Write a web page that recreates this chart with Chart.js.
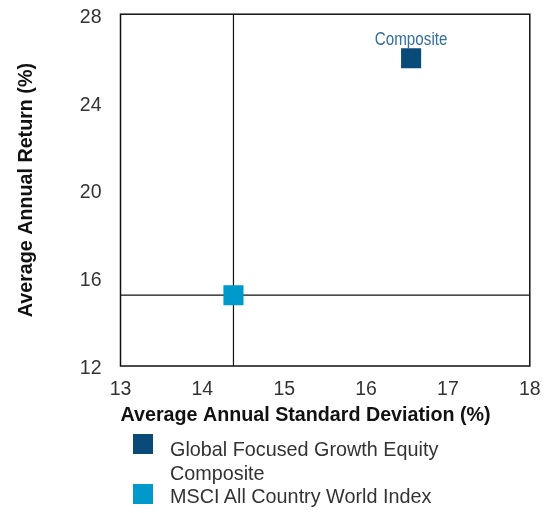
<!DOCTYPE html>
<html>
<head>
<meta charset="utf-8">
<script src="https://cdn.jsdelivr.net/npm/chart.js@4"></script>
<style>
  html, body { margin: 0; padding: 0; background: #fff; }
  #wrap { position: relative; width: 544px; height: 513px; }
  #legend { position: absolute; left: 133px; top: 438px; font-family: "Liberation Sans", Arial, sans-serif; font-size: 19.8px; color: #333; }
  .item { position: relative; padding-left: 37px; line-height: 23.5px; width: 340px; }
  .box { position: absolute; left: 0; width: 20px; height: 20px; }
</style>
</head>
<body>
<div id="wrap">
  <canvas id="chart" width="544" height="513"></canvas>
  <div id="legend"></div>
</div>
<script>
// values
var seriesNames = ["Global Focused Growth Equity Composite", "MSCI All Country World Index"];
var seriesColors = ["#0a4a78", "#0099cc"];
var stdDev = [16.55, 14.38];
var avgReturn = [26.0, 15.22];
var pointLabels = ["Composite", ""];
var xTicks = [13, 14, 15, 16, 17, 18];
var yTicks = [12, 16, 20, 24, 28];

// crosshair through the index point + frame + point label
var extras = {
  id: "extras",
  beforeDatasetsDraw: function (chart) {
    var ctx = chart.ctx, a = chart.chartArea;
    var xs = chart.scales.x, ys = chart.scales.y;
    var px = xs.getPixelForValue(stdDev[1]);
    var py = ys.getPixelForValue(avgReturn[1]);
    ctx.save();
    ctx.strokeStyle = "#111";
    ctx.lineWidth = 1.2;
    ctx.beginPath();
    ctx.moveTo(px, a.top); ctx.lineTo(px, a.bottom);
    ctx.moveTo(a.left, py); ctx.lineTo(a.right, py);
    ctx.stroke();
    ctx.lineWidth = 1.5;
    ctx.strokeRect(a.left, a.top, a.right - a.left, a.bottom - a.top);
    ctx.restore();
  },
  afterDatasetsDraw: function (chart) {
    var ctx = chart.ctx;
    chart.data.datasets.forEach(function (ds, i) {
      if (!pointLabels[i]) return;
      var pt = chart.getDatasetMeta(i).data[0];
      ctx.save();
      ctx.translate(pt.x, pt.y - 13);
      ctx.scale(0.8, 1);
      ctx.font = '19px "Liberation Sans", Arial, sans-serif';
      ctx.fillStyle = "#336e9c";
      ctx.textAlign = "center";
      ctx.textBaseline = "alphabetic";
      ctx.fillText(pointLabels[i], 0, 0);
      ctx.restore();
    });
  }
};

var datasets = seriesNames.map(function (name, i) {
  return {
    label: name,
    data: [{ x: stdDev[i], y: avgReturn[i] }],
    pointStyle: "rect",
    pointRadius: 14.2,
    pointHoverRadius: 14.2,
    backgroundColor: seriesColors[i],
    borderWidth: 0
  };
});

var tickFont = { family: '"Liberation Sans", Arial, sans-serif', size: 19.5 };
var titleFont = { family: '"Liberation Sans", Arial, sans-serif', size: 19.7, weight: "bold" };

new Chart(document.getElementById("chart").getContext("2d"), {
  type: "scatter",
  data: { datasets: datasets },
  plugins: [extras],
  options: {
    responsive: false,
    animation: false,
    layout: { padding: { top: 12, right: 13, bottom: 82, left: 0 } },
    plugins: { legend: { display: false }, tooltip: { enabled: false } },
    scales: {
      x: {
        min: xTicks[0], max: xTicks[xTicks.length - 1],
        afterBuildTicks: function (s) { s.ticks = xTicks.map(function (v) { return { value: v }; }); },
        afterFit: function (s) { s.height = 65; s.paddingLeft = 0; s.paddingRight = 0; },
        grid: { display: false, drawTicks: false },
        border: { display: false },
        ticks: { color: "#333", font: tickFont, padding: 12, maxRotation: 0 },
        title: { display: true, text: "Average Annual Standard Deviation (%)", color: "#111", font: titleFont, align: "start", padding: { top: 4, bottom: 4 } }
      },
      y: {
        min: yTicks[0], max: yTicks[yTicks.length - 1],
        afterBuildTicks: function (s) { s.ticks = yTicks.map(function (v) { return { value: v }; }); },
        afterFit: function (s) { s.width = 120.5; s.paddingTop = 0; s.paddingBottom = 0; },
        grid: { display: false, drawTicks: false },
        border: { display: false },
        ticks: { color: "#333", font: tickFont, padding: 19, labelOffset: 3 },
        title: { display: true, text: "Average Annual Return (%)", color: "#111", font: titleFont, padding: { top: 15, bottom: 0 } }
      }
    }
  }
});

var legend = document.getElementById("legend");
var boxTops = [-4, -1];
seriesNames.forEach(function (name, i) {
  var d = document.createElement("div");
  d.className = "item";
  d.innerHTML = '<span class="box" style="top:' + boxTops[i] + 'px;background:' + seriesColors[i] + '"></span>' +
    (i === 0 ? "Global Focused Growth Equity<br>Composite" : name);
  legend.appendChild(d);
});
</script>
</body>
</html>
